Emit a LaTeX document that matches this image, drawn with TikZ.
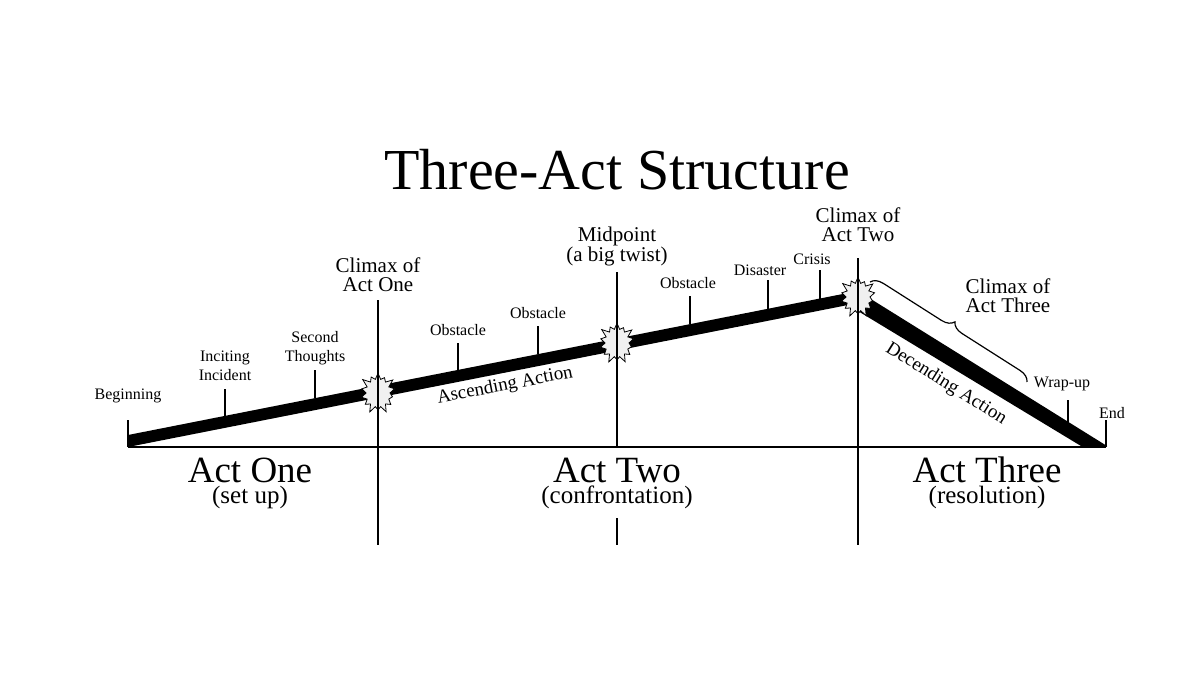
\documentclass[tikz,border=0pt]{standalone}
\usepackage{fontspec}
\setmainfont{Liberation Serif}
\usetikzlibrary{shapes.symbols,decorations.pathreplacing}

\tikzset{
  lbl/.style={font=\fontsize{16}{19}\selectfont,align=center,inner sep=0pt},
  midlbl/.style={font=\fontsize{21}{19}\selectfont,align=center,inner sep=0pt},
  actlbl/.style={font=\fontsize{37}{37}\selectfont,inner sep=0pt},
  sublbl/.style={font=\fontsize{25}{25}\selectfont,inner sep=0pt},
  tick/.style={line width=1.8pt},
  blast/.style={starburst,draw,fill=gray!12,line width=0.8pt,starburst points=14,
    starburst point height=8pt,minimum width=40pt,minimum height=44pt,inner sep=0pt},
}

\begin{document}
\begin{tikzpicture}[x=1pt,y=-1pt]
\useasboundingbox (0,0) rectangle (1200,675);
% title
\node[font=\fontsize{58}{58}\selectfont] (title) at (617,170) {Three-Act Structure};
% baseline and the rising / falling bar
\coordinate (base-l) at (128,447);
\coordinate (base-r) at (1106,447);
\draw[line width=2.4pt] (base-l) -- (base-r);
\fill (128,435) -- (858,291) -- (1107,446) -- (1081,446) -- (848,305) -- (128,447) -- cycle;
% climaxes
\node[blast] (c1) at (378,393) {};
\node[blast] (c2) at (617,343) {};
\node[blast] (c3) at (858,297) {};
\coordinate (c1-t) at (378,300);
\coordinate (c2-t) at (617,272);
\coordinate (c3-t) at (858,258);
\coordinate (c1-b) at (378,545);
\coordinate (c2-b) at (617,545);
\coordinate (c2-m) at (617,518);
\coordinate (c3-b) at (858,545);
\draw[tick] (c1-t) -- (c1-b);
\draw[tick] (c2-t) -- (c2 |- base-l);
\draw[tick] (c2-m) -- (c2-b);
\draw[tick] (c3-t) -- (c3-b);
% ticks on the bar
\foreach \n/\x/\ya/\yb in {beg/128/420/447,inc/225/389/416,sec/315/370/398,ob1/458/343/370,
  ob2/538/326/354,ob3/690/296/324,dis/768/280/309,cri/820/270/299,wra/1068/400/424,end/1106/420/447}{
  \coordinate (\n-t) at (\x,\ya);
  \coordinate (\n-b) at (\x,\yb);
  \draw[tick] (\n-t) -- (\n-b);
}
% labels
\node[lbl] (beg) at (128,396) {Beginning};
\node[lbl] (inc) at (225,366) {Inciting\\Incident};
\node[lbl] (sec) at (315,348) {Second\\Thoughts};
\node[midlbl] (cl1) at (378,275) {Climax of\\Act One};
\node[lbl] (ob1) at (458,330) {Obstacle};
\node[lbl] (ob2) at (538,313) {Obstacle};
\node[midlbl] (mid) at (617,246) {Midpoint\\(a big twist)};
\node[lbl] (ob3) at (688,283) {Obstacle};
\node[lbl] (dis) at (760,270) {Disaster};
\node[lbl] (cri) at (812,259) {Crisis};
\node[midlbl] (cl2) at (858,225) {Climax of\\Act Two};
\node[midlbl] (cl3) at (1008,296) {Climax of\\Act Three};
\node[lbl] (wra) at (1062,384) {Wrap-up};
\node[lbl] (end) at (1112,413) {End};
\node[lbl,font=\fontsize{19}{19}\selectfont,rotate=11] (asc) at (505,386) {Ascending Action};
\node[lbl,font=\fontsize{19}{19}\selectfont,rotate=-32] (des) at (946,384) {Decending Action};
% brace for the third climax
\coordinate (br-s) at (870,282);
\coordinate (br-e) at (1027,382);
\draw[line width=1.2pt,decorate,decoration={brace,amplitude=12pt}] (br-s) -- (br-e);
% acts
\node[actlbl] (a1) at (250,470) {Act One};
\node[sublbl] (s1) at (250,497) {(set up)};
\node[actlbl] (a2) at (617,470) {Act Two};
\node[sublbl] (s2) at (617,497) {(confrontation)};
\node[actlbl] (a3) at (987,470) {Act Three};
\node[sublbl] (s3) at (987,497) {(resolution)};
\end{tikzpicture}
\end{document}
